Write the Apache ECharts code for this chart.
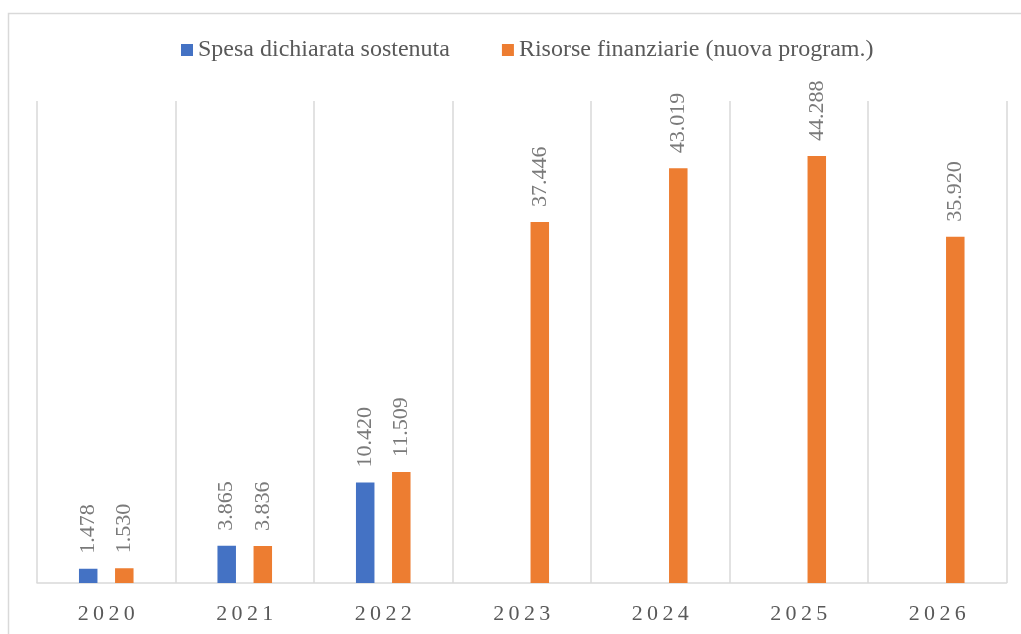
<!DOCTYPE html>
<html>
<head>
<meta charset="utf-8">
<script src="https://cdn.jsdelivr.net/npm/echarts@6/dist/echarts.min.js"></script>
<style>
  html, body { margin: 0; padding: 0; background: #fff; }
  #chart { width: 1021px; height: 634px; }
</style>
</head>
<body>
<div id="chart"></div>
<script>
// dati
const years = ['2020', '2021', '2022', '2023', '2024', '2025', '2026']
const spesaSostenuta = [1478, 3865, 10420, null, null, null, null]
const risorseFinanziarie = [1530, 3836, 11509, 37446, 43019, 44288, 35920]
const seriesNames = ['Spesa dichiarata sostenuta', 'Risorse finanziarie (nuova program.)']

const serif = '"Liberation Serif", "Times New Roman", serif'

// 1478 -> "1.478"
const formatIt = (v) => String(v).replace(/\B(?=(\d{3})+(?!\d))/g, '.')

const chart = echarts.init(document.getElementById('chart'))

const barLabel = {
  show: true,
  position: 'top',
  rotate: 90,
  align: 'left',
  verticalAlign: 'middle',
  distance: 15,
  fontFamily: serif,
  fontSize: 22,
  color: '#7a7a7a',
  formatter: (p) => formatIt(p.value)
}

chart.setOption({
  animation: false,
  graphic: [
    {
      type: 'rect',
      silent: true,
      shape: { x: 8.5, y: 13.5, width: 1100, height: 700 },
      style: { fill: 'none', stroke: '#d9d9d9', lineWidth: 1.5 }
    }
  ],
  legend: {
    data: seriesNames,
    top: 38,
    left: 181,
    padding: 0,
    itemWidth: 12,
    itemHeight: 12,
    itemGap: 52,
    icon: 'rect',
    textStyle: {
      fontFamily: serif,
      fontSize: 24,
      color: '#595959'
    }
  },
  grid: {
    left: 37,
    right: 14.5,
    top: 101,
    bottom: 51,
    containLabel: false
  },
  xAxis: {
    type: 'category',
    data: years,
    axisTick: { show: false },
    axisLine: { lineStyle: { color: '#d9d9d9', width: 1.5 } },
    splitLine: { show: true, lineStyle: { color: '#d9d9d9', width: 1.5 } },
    axisLabel: {
      margin: 20,
      fontFamily: serif,
      fontSize: 22,
      color: '#595959',
      // spaziatura tra le cifre come nell'originale
      formatter: (v) => v.split('').join('\u2009')
    }
  },
  yAxis: {
    type: 'value',
    min: 0,
    max: 50000,
    show: false,
    splitLine: { show: false }
  },
  series: [
    {
      name: seriesNames[0],
      type: 'bar',
      data: spesaSostenuta,
      barWidth: 18.5,
      barGap: '95%',
      itemStyle: { color: '#4472C4' },
      label: barLabel
    },
    {
      name: seriesNames[1],
      type: 'bar',
      data: risorseFinanziarie,
      barWidth: 18.5,
      itemStyle: { color: '#ED7D31' },
      label: barLabel
    }
  ]
})
</script>
</body>
</html>
